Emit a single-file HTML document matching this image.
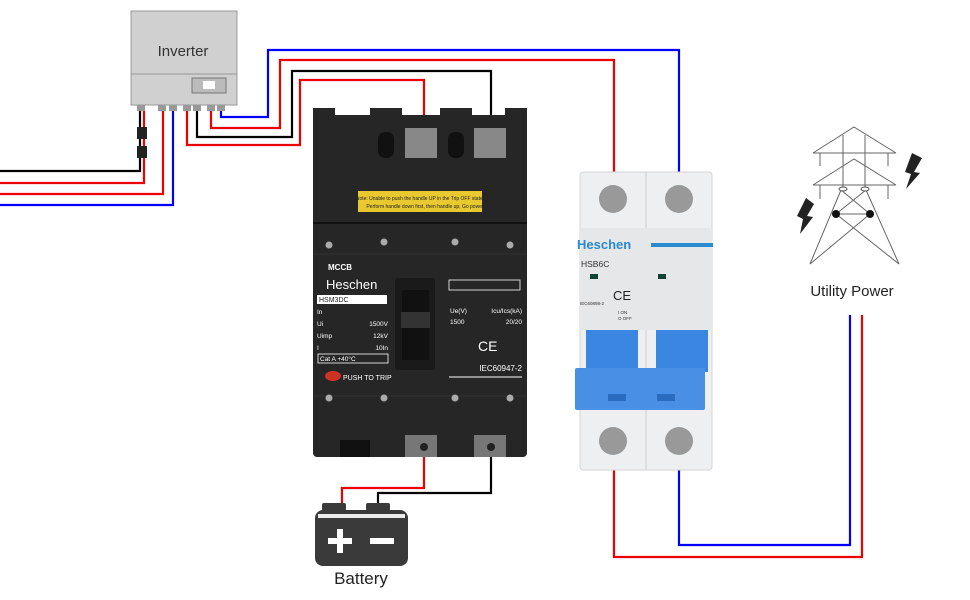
<!DOCTYPE html>
<html><head><meta charset="utf-8"><style>
html,body{margin:0;padding:0;background:#fff;width:970px;height:600px;overflow:hidden}
text{font-family:"Liberation Sans",sans-serif}
</style></head><body>
<svg width="970" height="600" viewBox="0 0 970 600" xmlns="http://www.w3.org/2000/svg">
<!-- wires -->
<g fill="none" stroke-width="2.2">
<polyline points="140,110 140,171 0,171" stroke="#000"/>
<polyline points="144,110 144,183 0,183" stroke="#e00"/>
<polyline points="163,110 163,194 0,194" stroke="#e00"/>
<polyline points="173,110 173,205 0,205" stroke="#00f"/>
<polyline points="221,110 221,117 268,117 268,50 679,50 679,180" stroke="#00f"/>
<polyline points="211,110 211,128 280,128 280,60 614,60 614,180" stroke="#e00"/>
<polyline points="197,110 197,137 292,137 292,71 491,71 491,140" stroke="#000"/>
<polyline points="187,110 187,145 300,145 300,80 424,80 424,140" stroke="#e00"/>
<polyline points="424,450 424,488 342,488 342,505" stroke="#e00"/>
<polyline points="491,450 491,493 378,493 378,505" stroke="#000"/>
<polyline points="614,465 614,557 862,557 862,315" stroke="#e00"/>
<polyline points="679,465 679,545 850,545 850,315" stroke="#00f"/>
</g>
<!-- connectors -->
<rect x="137" y="127" width="10" height="12" fill="#222"/>
<rect x="137" y="146" width="10" height="12" fill="#222"/>
<!-- inverter -->
<rect x="131" y="11" width="106" height="94" fill="#d0d0d0" stroke="#999"/>
<line x1="131" y1="74" x2="237" y2="74" stroke="#999"/>
<text x="183" y="56" font-size="15" text-anchor="middle" fill="#333">Inverter</text>
<rect x="192" y="78" width="34" height="15" fill="#bbb" stroke="#777"/>
<rect x="203" y="81" width="12" height="8" fill="#fff"/>
<g fill="#999"><rect x="137" y="105" width="8" height="6"/><rect x="158" y="105" width="8" height="6"/><rect x="169" y="105" width="8" height="6"/><rect x="183" y="105" width="8" height="6"/><rect x="193" y="105" width="8" height="6"/><rect x="207" y="105" width="8" height="6"/><rect x="217" y="105" width="8" height="6"/></g>
<!-- MCCB -->
<rect x="313" y="115" width="214" height="342" rx="4" fill="#262626"/>
<rect x="313" y="108" width="22" height="60" fill="#262626"/>
<rect x="370" y="108" width="32" height="60" fill="#262626"/>
<rect x="440" y="108" width="32" height="60" fill="#262626"/>
<rect x="505" y="108" width="22" height="60" fill="#262626"/>
<rect x="405" y="128" width="32" height="30" fill="#888"/>
<rect x="474" y="128" width="32" height="30" fill="#888"/>
<rect x="378" y="132" width="16" height="26" rx="7" fill="#111"/>
<rect x="448" y="132" width="16" height="26" rx="7" fill="#111"/>
<rect x="358" y="191" width="124" height="21" fill="#e8c930"/>
<text x="420" y="200" font-size="5" text-anchor="middle" fill="#222">Note: Unable to push the handle UP in the Trip OFF state.</text>
<text x="425" y="208" font-size="5" text-anchor="middle" fill="#222">Perform handle down first, then handle up, Go power</text>
<line x1="313" y1="223" x2="527" y2="223" stroke="#111" stroke-width="2"/>
<line x1="313" y1="254" x2="527" y2="254" stroke="#333"/>
<line x1="313" y1="396" x2="527" y2="396" stroke="#333"/>
<g fill="#aaa"><circle cx="329" cy="245" r="3.5"/><circle cx="384" cy="242" r="3.5"/><circle cx="455" cy="242" r="3.5"/><circle cx="510" cy="245" r="3.5"/><circle cx="329" cy="398" r="3.5"/><circle cx="384" cy="398" r="3.5"/><circle cx="455" cy="398" r="3.5"/><circle cx="510" cy="398" r="3.5"/></g>
<text x="328" y="270" font-size="8" font-weight="bold" fill="#fff">MCCB</text>
<text x="326" y="289" font-size="13" fill="#fff">Heschen</text>
<rect x="317" y="295" width="70" height="9" fill="#fff"/>
<text x="319" y="302" font-size="7" fill="#222">HSM3DC</text>
<g font-size="6.5" fill="#fff"><text x="317" y="314">In</text><text x="317" y="326">Ui</text><text x="317" y="338">Uimp</text><text x="317" y="350">I</text>
<text x="388" y="326" text-anchor="end">1500V</text><text x="388" y="338" text-anchor="end">12kV</text><text x="388" y="350" text-anchor="end">10In</text>
<text x="320" y="361">Cat A  +40°C</text>
<text x="450" y="313">Ue(V)</text><text x="522" y="313" text-anchor="end">Icu/Ics(kA)</text><text x="450" y="324">1500</text><text x="522" y="324" text-anchor="end">20/20</text>
<text x="522" y="371" text-anchor="end" font-size="8">IEC60947-2</text></g>
<rect x="318" y="354" width="70" height="9" fill="none" stroke="#fff" stroke-width=".8"/>
<text x="478" y="351" font-size="14" fill="#fff">CE</text>
<line x1="449" y1="377" x2="522" y2="377" stroke="#fff"/>
<rect x="449" y="280" width="71" height="10" fill="none" stroke="#fff" stroke-width=".8"/>
<ellipse cx="333" cy="376" rx="8" ry="5" fill="#c32"/>
<text x="343" y="380" font-size="7" fill="#fff">PUSH TO TRIP</text>
<rect x="395" y="278" width="40" height="92" rx="3" fill="#1a1a1a"/>
<rect x="402" y="290" width="27" height="70" fill="#111"/>
<rect x="401" y="312" width="29" height="16" fill="#333"/>
<rect x="340" y="440" width="30" height="17" fill="#111"/>
<rect x="405" y="435" width="32" height="22" fill="#777"/>
<rect x="474" y="435" width="32" height="22" fill="#777"/>
<circle cx="424" cy="447" r="4" fill="#222"/><circle cx="491" cy="447" r="4" fill="#222"/>
<!-- battery -->
<rect x="322" y="503" width="24" height="8" rx="2" fill="#3a3a3a"/>
<rect x="366" y="503" width="24" height="8" rx="2" fill="#3a3a3a"/>
<rect x="315" y="510" width="93" height="56" rx="8" fill="#3a3a3a"/>
<rect x="318" y="514" width="87" height="4" fill="#fff" opacity=".9"/>
<rect x="328" y="538" width="24" height="6" fill="#fff"/><rect x="337" y="529" width="6" height="24" fill="#fff"/>
<rect x="370" y="538" width="24" height="6" fill="#fff"/>
<text x="361" y="584" font-size="17" text-anchor="middle" fill="#222">Battery</text>
<!-- MCB -->
<rect x="580" y="172" width="132" height="298" rx="3" fill="#eeeff1" stroke="#d6d6d6"/>
<line x1="646" y1="172" x2="646" y2="470" stroke="#ccc"/>
<rect x="580" y="228" width="132" height="102" fill="#e6e7e9"/>
<circle cx="613" cy="199" r="14" fill="#999"/><circle cx="679" cy="199" r="14" fill="#999"/>
<circle cx="613" cy="441" r="14" fill="#999"/><circle cx="679" cy="441" r="14" fill="#999"/>
<text x="577" y="249" font-size="13" font-weight="bold" fill="#2a8ad0">Heschen</text>
<rect x="651" y="243" width="62" height="4" fill="#2a8ad0"/>
<text x="581" y="267" font-size="8.5" fill="#333">HSB6C</text>
<rect x="590" y="274" width="8" height="5" fill="#143"/><rect x="658" y="274" width="8" height="5" fill="#143"/>
<text x="613" y="300" font-size="13" fill="#222">CE</text>
<text x="580" y="305" font-size="4.5" fill="#333">IEC60898-2</text>
<text x="618" y="314" font-size="4.5" fill="#333">I ON</text><text x="618" y="320" font-size="4.5" fill="#333">O OFF</text>
<rect x="586" y="330" width="52" height="42" fill="#3b86e0"/><rect x="656" y="330" width="52" height="42" fill="#3b86e0"/>
<rect x="575" y="368" width="130" height="42" rx="2" fill="#4a8fe6"/>
<rect x="608" y="394" width="18" height="7" fill="#2a6cc0"/><rect x="657" y="394" width="18" height="7" fill="#2a6cc0"/>
<!-- tower -->
<g stroke="#666" stroke-width="1" fill="none">
<polyline points="813,153 854,127 896,153"/><line x1="813" y1="153" x2="896" y2="153"/>
<polyline points="813,185 854,159 896,185"/><line x1="813" y1="185" x2="896" y2="185"/>
<line x1="820" y1="153" x2="820" y2="166"/><line x1="888" y1="153" x2="888" y2="166"/>
<line x1="820" y1="185" x2="820" y2="199"/><line x1="888" y1="185" x2="888" y2="199"/>
<line x1="843" y1="135" x2="843" y2="188"/><line x1="865" y1="135" x2="865" y2="188"/>
<polyline points="841,190 810,264"/><polyline points="866,190 899,264"/>
<line x1="841" y1="190" x2="870" y2="214"/><line x1="866" y1="190" x2="836" y2="214"/>
<line x1="836" y1="214" x2="899" y2="264"/><line x1="870" y1="214" x2="810" y2="264"/>
<line x1="836" y1="214" x2="870" y2="214"/>
</g>
<ellipse cx="843" cy="189" rx="4" ry="2" fill="#fff" stroke="#555"/><ellipse cx="865" cy="189" rx="4" ry="2" fill="#fff" stroke="#555"/>
<circle cx="836" cy="214" r="4" fill="#111"/><circle cx="870" cy="214" r="4" fill="#111"/>
<polygon points="912,153 922,158 914,172 920,173 906,189 911,174 905,172" fill="#222"/>
<polygon points="806,198 814,204 807,216 813,217 800,234 803,219 797,216" fill="#222"/>
<text x="852" y="296" font-size="15" text-anchor="middle" fill="#222">Utility Power</text>
</svg>
</body></html>
